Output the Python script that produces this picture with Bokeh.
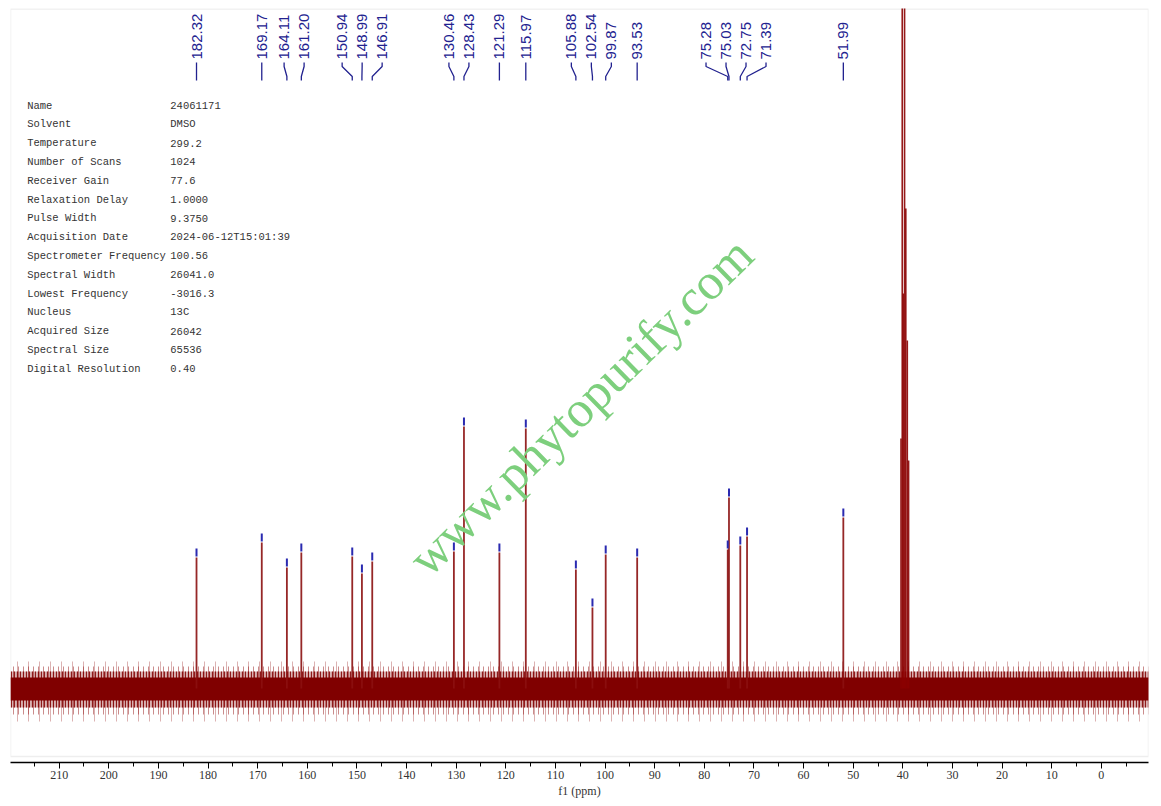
import math
from bokeh.plotting import figure
from bokeh.models import Range1d, SingleIntervalTicker, BoxAnnotation
from bokeh.core.properties import value
from bokeh.embed import file_html
from bokeh.resources import INLINE

# 13C peak list (ppm) and peak heights above baseline (arbitrary units)
peak_ppm = [182.32, 169.17, 164.11, 161.20, 150.94, 148.99, 146.91, 130.46, 128.43, 121.29,
            115.97, 105.88, 102.54, 99.87, 93.53, 75.28, 75.03, 72.75, 71.39, 51.99]
peak_height = [131, 146, 121, 136, 132, 115, 127, 137, 262, 136,
               260, 119, 81, 134, 131, 139, 191, 143, 152, 171]

# DMSO-d6 septet (goes off the top)
solvent_ppm = [40.37, 40.12, 39.90, 39.65, 39.40, 39.10, 38.84]
solvent_height = [250, 1000, 395, 1000, 480, 348, 228]

# baseline noise envelope: solid core, dense spikes, outer spikes
noise_ppm = [219.8, 40.5, float("nan"), 38.7, -9.5]
noise_core = (-12, 11)
noise_dense = (-19, 17)
noise_mid = (-26, 22)
noise_outer = (-33, 27)

# acquisition parameters
param_names = ["Name", "Solvent", "Temperature", "Number of Scans", "Receiver Gain",
               "Relaxation Delay", "Pulse Width", "Acquisition Date", "Spectrometer Frequency",
               "Spectral Width", "Lowest Frequency", "Nucleus", "Acquired Size",
               "Spectral Size", "Digital Resolution"]
param_values = ["24061171", "DMSO", "299.2", "1024", "77.6", "1.0000", "9.3750",
                "2024-06-12T15:01:39", "100.56", "26041.0", "-3016.3", "13C", "26042",
                "65536", "0.40"]

WATERMARK = "www.phytopurify.com"

X_START, X_END = 219.8, -9.5
FRAME_W, FRAME_H = 1138, 754
PX_PER_PPM = FRAME_W / (X_START - X_END)


def spread_labels(xs, gap):
    """Push labels apart (xs ascending) so neighbours are at least gap apart."""
    clusters = [[x] for x in xs]

    def positions(c):
        start = sum(c) / len(c) - gap * (len(c) - 1) / 2
        return [start + i * gap for i in range(len(c))]

    merged = True
    while merged:
        merged = False
        for i in range(len(clusters) - 1):
            if positions(clusters[i])[-1] + gap > positions(clusters[i + 1])[0]:
                clusters[i] = clusters[i] + clusters.pop(i + 1)
                merged = True
                break
    out = []
    for c in clusters:
        out += positions(c)
    return out


p = figure(frame_width=FRAME_W, frame_height=FRAME_H, output_backend="svg",
           toolbar_location=None, x_range=Range1d(X_START, X_END),
           y_range=Range1d(-74, 680), y_axis_location=None,
           min_border_left=10, min_border_right=5, min_border_top=8, min_border_bottom=30,
           background_fill_color="white", border_fill_color="white")
p.outline_line_color = None
p.grid.visible = False

# gray frame box, axis sits a little below it
p.add_layout(BoxAnnotation(left=X_END, right=X_START, bottom=-68, top=679.5,
                           fill_alpha=0, line_color="#c8c8c8", line_width=1.5,
                           level="underlay"))

# noise: overlapping stripe layers of different pitch so the fringe looks ragged
n = len(noise_ppm)
p.varea(x=noise_ppm, y1=[noise_outer[0]] * n, y2=[noise_outer[1]] * n,
        fill_alpha=0, hatch_pattern="vertical_line", hatch_color="#8b0000",
        hatch_alpha=0.3, hatch_scale=11, hatch_weight=1)
p.varea(x=noise_ppm, y1=[noise_mid[0]] * n, y2=[noise_mid[1]] * n,
        fill_alpha=0, hatch_pattern="vertical_line", hatch_color="#8b0000",
        hatch_alpha=0.45, hatch_scale=5, hatch_weight=1)
p.varea(x=noise_ppm, y1=[noise_dense[0]] * n, y2=[noise_dense[1]] * n,
        fill_color="#800000", fill_alpha=0.3, hatch_pattern="vertical_line",
        hatch_color="#800000", hatch_alpha=0.85, hatch_scale=3, hatch_weight=1.2)
p.varea(x=noise_ppm, y1=[noise_core[0]] * n, y2=[noise_core[1]] * n,
        fill_color="#800000")

# peaks
p.segment(x0=solvent_ppm, y0=[0] * len(solvent_ppm), x1=solvent_ppm, y1=solvent_height,
          line_color="#8b0000", line_width=1.6, line_alpha=0.9)
p.segment(x0=peak_ppm, y0=[0] * len(peak_ppm), x1=peak_ppm, y1=peak_height,
          line_color="#8b1010", line_width=1.8, line_alpha=0.9)
p.segment(x0=peak_ppm, y0=[h + 1 for h in peak_height], x1=peak_ppm,
          y1=[h + 9 for h in peak_height], line_color="#2a2ab0", line_width=2)

# peak labels with leaders
lab_pos = [-v for v in spread_labels([-v for v in peak_ppm], 20 / PX_PER_PPM)]
p.multi_line(xs=[[lx, lx, px, px] for lx, px in zip(lab_pos, peak_ppm)],
             ys=[[626, 622, 612, 608]] * len(peak_ppm), line_color="#22228f", line_width=1.3)
p.text(x=lab_pos, y=[629] * len(peak_ppm), text=[f"{v:.2f}" for v in peak_ppm],
       angle=math.pi / 2, text_align="left", text_baseline="middle",
       text_font=value("Liberation Sans"), text_font_size="15px", text_color="#22228f")

# parameter table
rows = [583 - 18.8 * i for i in range(len(param_names))]
p.text(x=[216.45] * len(rows), y=rows, text=param_names, text_baseline="middle",
       text_font=value("Liberation Mono"), text_font_size="10.5px", text_color="#333333")
p.text(x=[187.6] * len(rows), y=rows, text=param_values, text_baseline="middle",
       text_font=value("Liberation Mono"), text_font_size="10.5px", text_color="#333333")

# watermark
p.text(x=[104.9], y=[282], text=[WATERMARK], angle=0.775, text_align="center",
       text_baseline="middle", text_font=value("Liberation Serif"), text_font_size="51px",
       text_color="#7dcf7d")

ax = p.xaxis[0]
ax.ticker = SingleIntervalTicker(interval=10, num_minor_ticks=2)
ax.axis_label = "f1 (ppm)"
ax.axis_line_color = "black"
ax.axis_line_width = 1.5
ax.major_tick_in = 0
ax.major_tick_out = 6
ax.minor_tick_in = 0
ax.minor_tick_out = 4
ax.major_tick_line_color = "black"
ax.minor_tick_line_color = "black"
ax.major_label_standoff = 2
ax.major_label_text_font = "Liberation Serif"
ax.major_label_text_font_size = "12px"
ax.major_label_text_color = "#333333"
ax.axis_label_standoff = 2
ax.axis_label_text_font = "Liberation Serif"
ax.axis_label_text_font_size = "12px"
ax.axis_label_text_font_style = "normal"
ax.axis_label_text_color = "#333333"

open("out.html", "w").write(file_html(p, INLINE))
